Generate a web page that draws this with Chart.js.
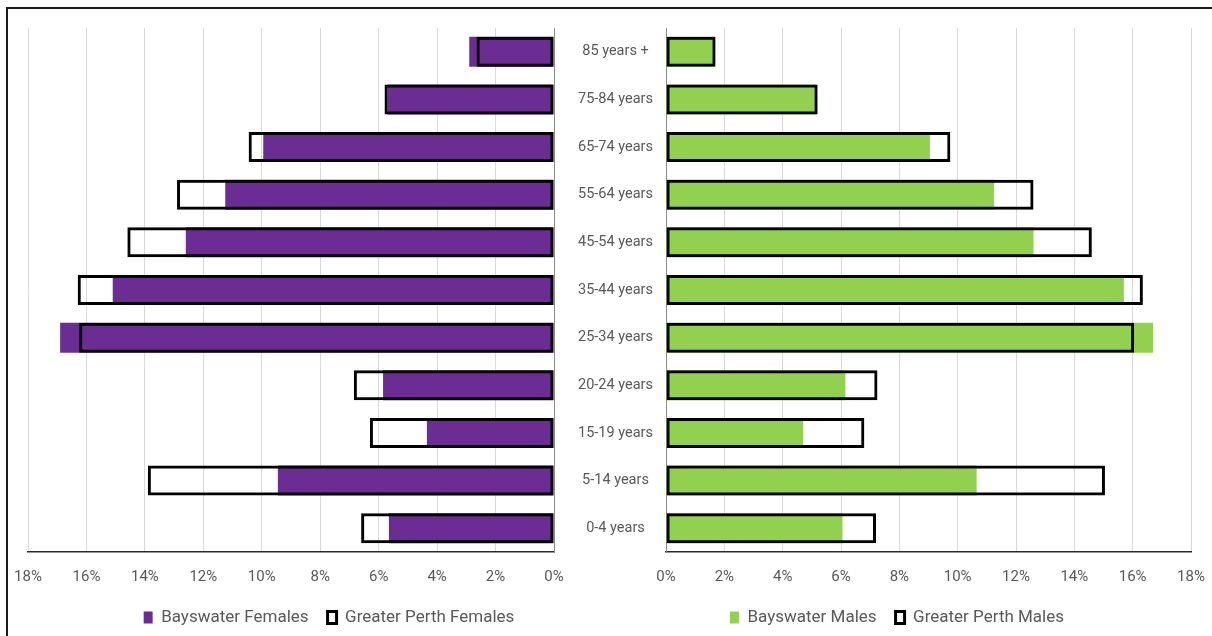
<!DOCTYPE html>
<html>
<head>
<meta charset="utf-8">
<script src="https://cdn.jsdelivr.net/npm/chart.js@4.4.1/dist/chart.umd.min.js"></script>
<style>
  html, body { margin: 0; padding: 0; background: #fff; overflow: hidden; }
  #wrap { position: relative; width: 1212px; height: 636px; overflow: hidden; }
  #frame { position: absolute; left: 6px; top: 7px; width: 1300px; height: 700px; border: 2px solid #1a1a1a; }
  canvas { position: absolute; top: 0; }
  #left { left: 0; }
  #right { left: 603px; }
</style>
</head>
<body>
<div id="wrap">
  <div id="frame"></div>
  <canvas id="left" width="658" height="636"></canvas>
  <canvas id="right" width="609" height="636"></canvas>
</div>
<script>
// faixas etárias, de cima para baixo
const ageGroups = ['85 years +', '75-84 years', '65-74 years', '55-64 years', '45-54 years',
  '35-44 years', '25-34 years', '20-24 years', '15-19 years', '5-14 years', '0-4 years'];

const bayswaterFemales = [2.9, 5.7, 9.95, 11.25, 12.6, 15.1, 16.9, 5.85, 4.35, 9.45, 5.65];
const perthFemales     = [2.65, 5.8, 10.45, 12.9, 14.6, 16.3, 16.25, 6.85, 6.3, 13.9, 6.6];
const bayswaterMales   = [1.65, 5.15, 9.05, 11.25, 12.6, 15.7, 16.7, 6.15, 4.7, 10.65, 6.05];
const perthMales       = [1.7, 5.2, 9.75, 12.6, 14.6, 16.35, 16.05, 7.25, 6.8, 15.05, 7.2];

const xMax = 18;
const xStep = 2;

const FONT = "Roboto, 'Liberation Sans', sans-serif";
const TEXT = '#595959';

function buildChart(canvasId, side) {
  const isLeft = side === 'left';
  const bays = isLeft ? bayswaterFemales : bayswaterMales;
  const perth = isLeft ? perthFemales : perthMales;
  const fill = isLeft ? '#6b2d94' : '#92d050';
  const suffix = isLeft ? 'Females' : 'Males';

  const scales = {
    x: {
      min: 0,
      max: xMax,
      reverse: isLeft,
      grid: { color: '#d9d9d9', drawTicks: false },
      border: { color: '#2b2b2b', width: 1.5 },
      ticks: {
        stepSize: xStep,
        padding: 16,
        color: TEXT,
        font: { family: FONT, size: 15 },
        callback: v => v + '%'
      },
      afterFit: s => { s.height = 38; s.paddingLeft = 0; s.paddingRight = 0; }
    },
    y: {
      position: isLeft ? 'right' : 'left',
      grid: { display: false, drawTicks: false },
      border: { color: '#8c8c8c', width: 1 },
      ticks: {
        display: isLeft,
        crossAlign: 'center',
        padding: 24,
        color: TEXT,
        font: { family: FONT, size: 14.5 }
      },
      afterFit: s => { s.width = isLeft ? 104 : 63; s.paddingTop = 0; s.paddingBottom = 0; }
    }
  };
  if (isLeft) {
    // eixo vazio só para afastar a área do gráfico da borda esquerda
    scales.yPad = {
      axis: 'y',
      type: 'category',
      position: 'left',
      grid: { display: false, drawTicks: false },
      border: { display: false },
      ticks: { display: false },
      afterFit: s => { s.width = 28; s.paddingTop = 0; s.paddingBottom = 0; }
    };
  }

  const ctx = document.getElementById(canvasId).getContext('2d');
  return new Chart(ctx, {
    type: 'bar',
    data: {
      labels: ageGroups,
      datasets: [{
        label: 'Bayswater ' + suffix,
        data: bays,
        backgroundColor: fill,
        borderWidth: 0,
        grouped: false,
        order: 1,
        barPercentage: 1,
        categoryPercentage: 0.63
      }, {
        label: 'Greater Perth ' + suffix,
        data: perth,
        backgroundColor: 'rgba(255,255,255,0)',
        borderColor: '#000',
        borderWidth: 3,
        borderSkipped: false,
        grouped: false,
        order: 0,
        barPercentage: 1,
        categoryPercentage: 0.63
      }]
    },
    options: {
      indexAxis: 'y',
      responsive: false,
      animation: false,
      layout: {
        padding: isLeft ? { left: 0, right: 0, top: 28, bottom: 0 } : { left: 0, right: 21, top: 28, bottom: 0 }
      },
      scales,
      plugins: {
        tooltip: { enabled: false },
        legend: {
          position: 'bottom',
          labels: {
            color: TEXT,
            font: { family: FONT, size: 17 },
            boxWidth: 9,
            boxHeight: 12,
            padding: 19,
            sort: (a, b) => a.datasetIndex - b.datasetIndex
          }
        }
      }
    }
  });
}

document.addEventListener('DOMContentLoaded', () => {
  buildChart('left', 'left');
  buildChart('right', 'right');
});
</script>
</body>
</html>
